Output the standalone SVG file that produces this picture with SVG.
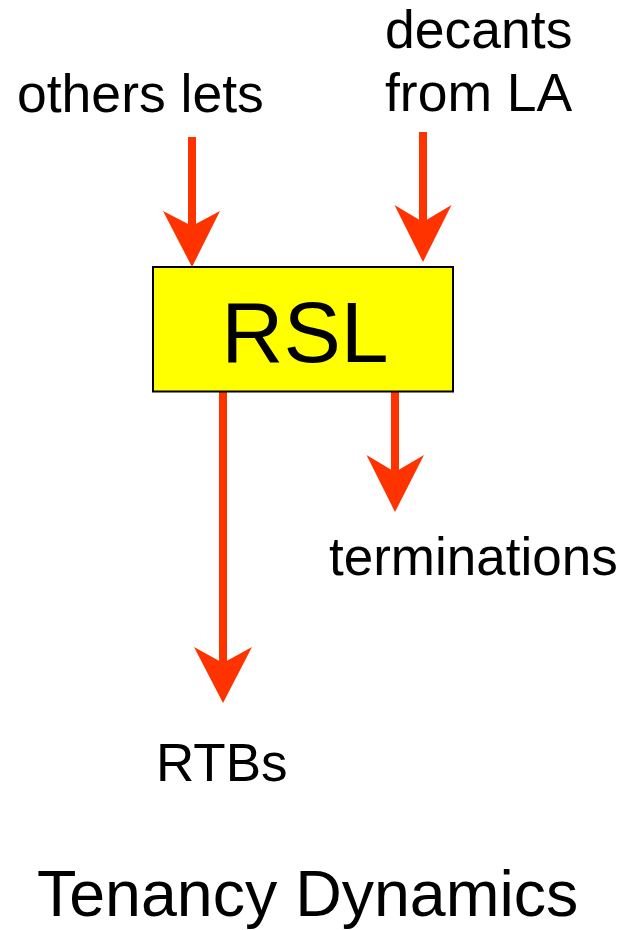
<svg xmlns="http://www.w3.org/2000/svg" width="628" height="930" viewBox="0 0 628 930">
  <style>
    .label { font-family: "Liberation Sans", Arial, sans-serif; fill: #000; }
    .shaft { stroke: #FF3300; stroke-width: 8; fill: none; }
    .head { fill: #FF3300; stroke: none; }
  </style>
  <rect width="628" height="930" fill="#ffffff"/>

  <!-- connectors -->
  <g id="connectors">
    <g id="in-others-lets">
      <line class="shaft" x1="192" y1="137" x2="192" y2="228"/>
      <path class="head" d="M192,267 L163,211 L192,226 L220,211 Z"/>
    </g>
    <g id="in-decants">
      <line class="shaft" x1="423" y1="132" x2="423" y2="224"/>
      <path class="head" d="M423,262 L394.5,205 L423,222 L451.5,205 Z"/>
    </g>
    <g id="out-rtbs">
      <line class="shaft" x1="223" y1="392" x2="223" y2="665"/>
      <path class="head" d="M223,703 L194,647 L223,663 L252,647 Z"/>
    </g>
    <g id="out-terminations">
      <line class="shaft" x1="395" y1="392" x2="395" y2="474"/>
      <path class="head" d="M395,512 L366.5,455 L395,472 L424,455 Z"/>
    </g>
  </g>

  <!-- central node -->
  <g id="rsl">
    <rect x="153" y="267" width="300" height="124.5" fill="#FFFF00" stroke="#000" stroke-width="2"/>
    <text class="label" x="305" y="362" font-size="86" text-anchor="middle">RSL</text>
  </g>

  <!-- flow labels -->
  <g id="others-lets">
    <text class="label" x="17" y="111.5" font-size="53.5">others lets</text>
  </g>
  <g id="decants-from-la">
    <text class="label" x="385" y="48" font-size="53.5">decants</text>
    <text class="label" x="385" y="111" font-size="53.5">from LA</text>
  </g>
  <g id="terminations">
    <text class="label" x="329" y="575" font-size="53">terminations</text>
  </g>
  <g id="rtbs">
    <text class="label" x="156" y="781" font-size="53">RTBs</text>
  </g>

  <!-- title -->
  <g id="title">
    <text class="label" x="37" y="915.5" font-size="64.5">Tenancy Dynamics</text>
  </g>
</svg>
